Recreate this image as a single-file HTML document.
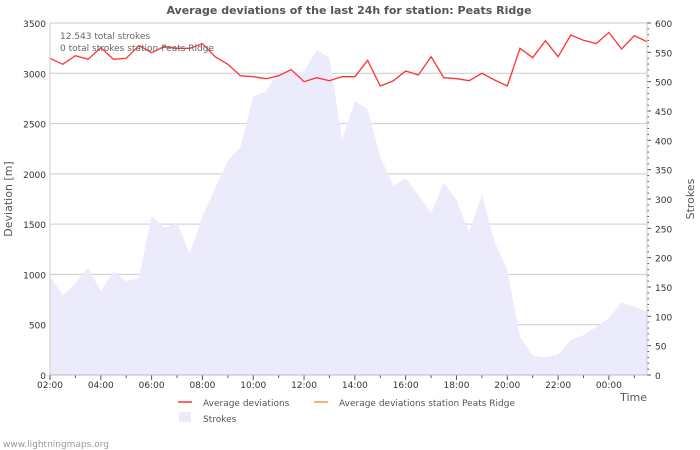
<!DOCTYPE html>
<html><head><meta charset="utf-8"><style>
body{margin:0;background:#fff;}
svg{display:block;font-family:"DejaVu Sans","Liberation Sans",sans-serif;}
</style></head><body>
<svg id="chart" width="700" height="450">
<text x="349" y="14" text-anchor="middle" font-size="11" font-weight="bold" fill="#555">Average deviations of the last 24h for station: Peats Ridge</text>
<g id="grid"></g><g id="area"></g><g id="line"></g><g id="axes"></g>
<text x="60" y="39" font-size="9" fill="#666">12.543 total strokes</text>
<text x="60" y="51" font-size="9" fill="#666">0 total strokes station Peats Ridge</text>
<text x="12" y="199" font-size="11" fill="#555" text-anchor="middle" transform="rotate(-90 12 199)">Deviation  [m]</text>
<text x="694" y="199" font-size="11" fill="#555" text-anchor="middle" transform="rotate(-90 694 199)">Strokes</text>
<text x="647" y="401" font-size="11" fill="#555" text-anchor="end">Time</text>
<g>
<line x1="178" y1="402" x2="192" y2="402" stroke="#f33" stroke-width="1.5"/>
<text x="203" y="406" font-size="9" fill="#555">Average deviations</text>
<line x1="314" y1="402" x2="328" y2="402" stroke="#f93" stroke-width="1.5"/>
<text x="339" y="406" font-size="9" fill="#555">Average deviations station Peats Ridge</text>
<rect x="179" y="412" width="12" height="10" fill="#ebebfc"/>
<text x="203" y="422" font-size="9" fill="#555">Strokes</text>
</g>
<text x="3" y="447" font-size="9" fill="#999">www.lightningmaps.org</text>
</svg>
<script>
const deviations=[3149,3089,3175,3139,3255,3139,3149,3275,3205,3265,3248,3248,3295,3165,3089,2976,2966,2946,2976,3036,2916,2956,2926,2966,2966,3129,2874,2923,3023,2983,3165,2956,2946,2926,3000,2933,2874,3248,3155,3324,3165,3381,3328,3295,3407,3241,3374,3314];
const strokes=[170,135,156,183,143,177,160,165,271,251,260,206,270,318,365,389,475,483,518,517,517,554,541,402,467,453,372,323,335,307,276,328,298,243,307,227,179,65,33,30,35,60,68,82,97,124,116,108];
const yTicks=[0,500,1000,1500,2000,2500,3000,3500];
const y2Ticks=[0,50,100,150,200,250,300,350,400,450,500,550,600];
const xLabels=["02:00","04:00","06:00","08:00","10:00","12:00","14:00","16:00","18:00","20:00","22:00","00:00"];
const NS="http://www.w3.org/2000/svg";
const X0=50,X1=647,YT=23,YB=375;
const stepX=(X1-X0)/(deviations.length-1);
const xs=i=>X0+i*stepX;
const ys=v=>YB-v/3500*(YB-YT);
const ys2=v=>YB-v/600*(YB-YT);
function mk(t,a,p){const e=document.createElementNS(NS,t);for(const k in a)e.setAttribute(k,a[k]);p.appendChild(e);return e;}
const grid=document.getElementById('grid'),axes=document.getElementById('axes');
yTicks.forEach(v=>{
 const l=mk('line',{x1:X0,x2:X1,y1:ys(v),y2:ys(v),stroke:'#ccc','stroke-width':1},grid);
 
 
 const t=mk('text',{x:X0-4,y:ys(v)+4,'text-anchor':'end','font-size':9,fill:'#333'},axes);
 t.textContent=v;
 
 
});
for(let v=0;v<=600;v+=10){
 const big=v%50===0;
 const l=mk('line',{x1:X1,x2:X1+(big?4:2),y1:ys2(v),y2:ys2(v),stroke:'#555'},axes);
 
 
}
y2Ticks.forEach(v=>{
 const t=mk('text',{x:X1+8,y:ys2(v)+4,'font-size':9,fill:'#333'},axes);
 t.textContent=v;
 
 
});
const hourPx=stepX*2;
for(let h=0;h*hourPx<=X1-X0+0.5;h++){
 const x=X0+h*hourPx;
 const l=mk('line',{x1:x,x2:x,y1:YB,y2:YB+(h%2===0?5:3),stroke:'#555'},axes);
 
 
}
xLabels.forEach((s,i)=>{
 const t=mk('text',{x:X0+i*2*hourPx,y:YB+13,'text-anchor':'middle','font-size':9,fill:'#333'},axes);
 t.textContent=s;
 
 
});
const ax1=mk('line',{x1:X0,x2:X0,y1:YT,y2:YB,stroke:'#ccc'},axes);


const ax2=mk('line',{x1:X0,x2:X1,y1:YB,y2:YB,stroke:'#bbb'},axes);


const ax3=mk('line',{x1:X1,x2:X1,y1:YT,y2:YB,stroke:'#ccc'},axes);


let d='M'+X0+','+YB;
strokes.forEach((v,i)=>{d+=' L'+xs(i).toFixed(1)+','+ys2(v).toFixed(1);});
d+=' L'+xs(strokes.length-1).toFixed(1)+','+YB+' Z';
const ar=mk('path',{d:d,fill:'#ebebfc'},document.getElementById('area'));


const pts=deviations.map((v,i)=>xs(i).toFixed(1)+','+ys(v).toFixed(1)).join(' ');
const pl=mk('polyline',{points:pts,fill:'none',stroke:'#f33','stroke-width':1.3},document.getElementById('line'));


</script>
</body></html>
